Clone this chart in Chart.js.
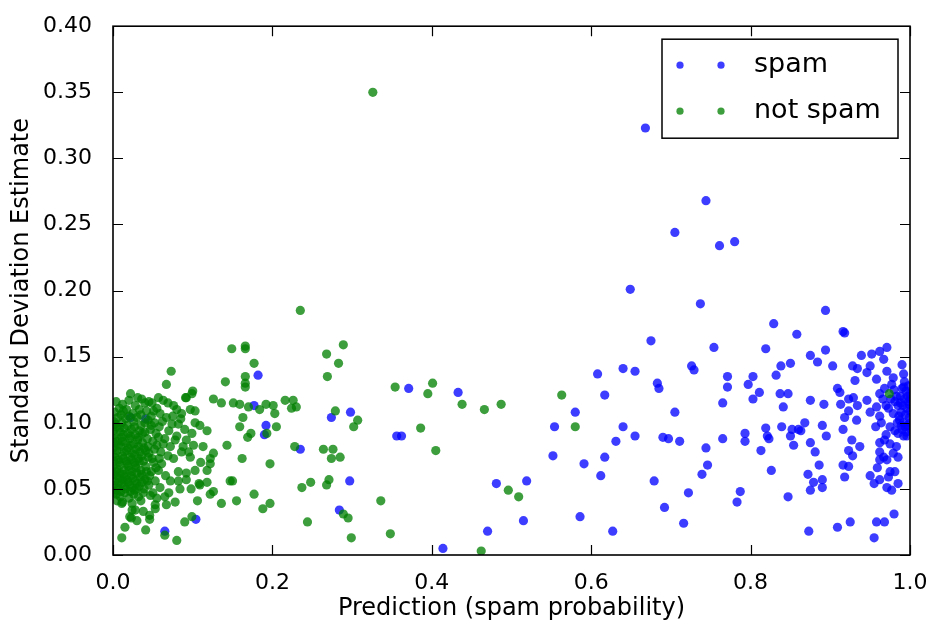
<!DOCTYPE html>
<html>
<head>
<meta charset="utf-8">
<script src="https://cdn.jsdelivr.net/npm/chart.js@4.4.1/dist/chart.umd.min.js"></script>
<style>
  html, body { margin: 0; padding: 0; background: #fff; }
  #wrap { width: 937px; height: 628px; }
</style>
</head>
<body>
<div id="wrap"><canvas id="chart" width="937" height="628"></canvas></div>
<script>
// series names and colours
const seriesNames = ['spam', 'not spam'];
const seriesColors = ['rgba(0,0,255,0.76)', 'rgba(0,128,0,0.76)'];

// axis ticks
const xTicks = [0, 0.2, 0.4, 0.6, 0.8, 1.0];
const yTicks = [0, 0.05, 0.10, 0.15, 0.20, 0.25, 0.30, 0.35, 0.40];

// spam points: [prediction, std estimate]
const spamPoints = [
  [0.022,0.104],[0.041,0.103],[0.065,0.018],[0.104,0.027],[0.177,0.113],[0.182,0.136],
  [0.192,0.098],[0.190,0.091],[0.235,0.080],[0.274,0.104],[0.298,0.108],[0.297,0.056],
  [0.284,0.034],[0.371,0.126],[0.433,0.123],[0.356,0.090],[0.362,0.090],[0.481,0.054],
  [0.519,0.056],[0.470,0.018],[0.414,0.005],[0.515,0.026],[0.554,0.097],[0.552,0.075],
  [0.580,0.108],[0.608,0.137],[0.640,0.141],[0.617,0.121],[0.640,0.097],[0.631,0.086],
  [0.617,0.074],[0.591,0.069],[0.612,0.060],[0.586,0.029],[0.627,0.018],
  [0.668,0.323],[0.744,0.268],[0.705,0.244],[0.761,0.234],[0.780,0.237],[0.649,0.201],
  [0.737,0.190],[0.675,0.162],[0.754,0.157],[0.829,0.175],[0.858,0.167],[0.894,0.185],
  [0.916,0.169],[0.918,0.168],[0.819,0.156],[0.894,0.155],[0.971,0.157],
  [0.655,0.139],[0.726,0.143],[0.729,0.140],[0.683,0.130],[0.685,0.126],[0.771,0.135],
  [0.771,0.127],[0.803,0.135],[0.797,0.129],[0.811,0.123],[0.803,0.118],[0.765,0.115],
  [0.838,0.143],[0.832,0.136],[0.705,0.108],[0.655,0.090],[0.690,0.089],[0.697,0.088],
  [0.711,0.086],[0.744,0.081],[0.765,0.088],[0.793,0.092],[0.793,0.086],[0.819,0.096],
  [0.821,0.090],[0.823,0.088],[0.813,0.079],[0.746,0.068],[0.739,0.061],[0.826,0.064],
  [0.787,0.048],[0.783,0.040],[0.679,0.056],[0.722,0.047],[0.692,0.036],[0.716,0.024],
  [0.875,0.151],[0.884,0.146],[0.903,0.143],[0.850,0.145],[0.939,0.151],[0.952,0.152],
  [0.962,0.154],[0.928,0.143],[0.934,0.141],[0.950,0.143],[0.967,0.148],[0.990,0.144],
  [0.992,0.137],[0.931,0.132],[0.946,0.138],[0.958,0.133],[0.971,0.139],[0.979,0.134],
  [0.909,0.126],[0.912,0.123],[0.837,0.122],[0.847,0.122],[0.875,0.117],[0.892,0.114],
  [0.913,0.114],[0.923,0.118],[0.929,0.119],[0.934,0.113],[0.923,0.109],[0.946,0.117],
  [0.950,0.108],[0.962,0.122],[0.962,0.105],[0.973,0.111],[0.981,0.116],[0.841,0.112],
  [0.918,0.104],[0.933,0.102],[0.839,0.097],[0.852,0.095],[0.850,0.090],[0.863,0.094],
  [0.868,0.100],[0.860,0.095],[0.890,0.098],[0.895,0.090],[0.916,0.095],[0.927,0.087],
  [0.937,0.082],[0.957,0.097],[0.975,0.097],[0.985,0.092],[0.992,0.090],[0.962,0.085],
  [0.968,0.087],[0.975,0.084],[0.983,0.082],[0.854,0.083],[0.875,0.085],[0.881,0.078],
  [0.923,0.079],[0.928,0.075],[0.962,0.078],[0.967,0.074],[0.962,0.072],[0.979,0.077],
  [0.985,0.074],[0.886,0.068],[0.916,0.068],[0.923,0.067],[0.959,0.066],[0.971,0.072],
  [0.872,0.061],[0.879,0.055],[0.890,0.057],[0.890,0.051],[0.875,0.049],[0.918,0.059],
  [0.950,0.060],[0.955,0.054],[0.962,0.057],[0.975,0.063],[0.981,0.063],[0.973,0.059],
  [0.971,0.051],[0.977,0.049],[0.985,0.054],[0.847,0.044],[0.980,0.031],[0.925,0.025],
  [0.958,0.025],[0.968,0.025],[0.909,0.021],[0.873,0.018],[0.955,0.013],
  [0.990,0.126],[0.995,0.124],[1.000,0.122],[0.988,0.120],[0.993,0.118],[0.998,0.116],
  [0.991,0.113],[0.996,0.111],[1.000,0.109],[0.989,0.108],[0.994,0.106],[0.999,0.104],
  [0.987,0.102],[0.992,0.100],[0.997,0.098],[1.000,0.096],[0.990,0.095],[0.995,0.093],
  [0.999,0.114],[0.985,0.113],[0.983,0.120],[0.986,0.105],[0.998,0.128],[0.993,0.131],
  [0.980,0.125],[0.976,0.118],[0.984,0.100],[0.979,0.107],[0.968,0.126],[0.977,0.129],
  [0.966,0.118],[0.970,0.113],[0.958,0.112],[0.964,0.100],[0.981,0.094],[0.970,0.091],
  [0.997,0.120],[0.992,0.127],[1.000,0.100],[0.996,0.090],[0.988,0.115],[0.994,0.097],
  [1.000,0.118],[0.989,0.098]
];

// not spam points: [prediction, std estimate]
const hamPoints = [
  [0.326,0.350],[0.974,0.122],
  [0.235,0.185],[0.166,0.158],[0.166,0.156],[0.149,0.156],[0.289,0.159],[0.268,0.152],
  [0.283,0.145],[0.177,0.145],[0.166,0.135],[0.166,0.127],[0.166,0.130],[0.141,0.131],
  [0.269,0.135],[0.073,0.139],[0.067,0.129],[0.022,0.122],[0.100,0.124],[0.091,0.119],
  [0.126,0.118],[0.136,0.115],[0.151,0.115],[0.159,0.114],[0.170,0.112],[0.192,0.114],
  [0.201,0.113],[0.216,0.117],[0.226,0.117],[0.230,0.112],[0.224,0.111],[0.203,0.107],
  [0.184,0.110],[0.279,0.109],[0.163,0.104],[0.159,0.097],[0.173,0.092],[0.169,0.089],
  [0.205,0.097],[0.193,0.092],[0.143,0.083],[0.228,0.082],[0.264,0.080],[0.276,0.080],
  [0.274,0.073],[0.285,0.074],[0.162,0.073],[0.197,0.069],[0.126,0.077],[0.122,0.073],
  [0.122,0.069],[0.110,0.070],[0.147,0.056],[0.150,0.056],[0.118,0.055],[0.108,0.054],
  [0.126,0.048],[0.122,0.046],[0.106,0.041],[0.136,0.039],[0.155,0.041],[0.177,0.046],
  [0.197,0.039],[0.188,0.035],[0.237,0.051],[0.248,0.055],[0.268,0.053],[0.271,0.057],
  [0.244,0.025],[0.289,0.031],[0.295,0.028],[0.299,0.013],[0.090,0.025],[0.099,0.029],
  [0.080,0.011],[0.065,0.015],[0.067,0.038],[0.053,0.038],[0.053,0.035],[0.046,0.030],
  [0.046,0.027],[0.041,0.019],[0.030,0.026],[0.023,0.028],[0.024,0.034],[0.015,0.021],
  [0.011,0.013],
  [0.354,0.127],[0.401,0.130],[0.395,0.122],[0.438,0.114],[0.466,0.110],[0.487,0.114],
  [0.563,0.121],[0.580,0.097],[0.386,0.096],[0.405,0.079],[0.307,0.102],[0.302,0.097],
  [0.336,0.041],[0.348,0.016],[0.496,0.049],[0.509,0.044],[0.462,0.003],
  [0.036,0.118],[0.040,0.115],[0.049,0.115],[0.057,0.119],[0.063,0.117],[0.069,0.115],
  [0.076,0.113],[0.080,0.110],[0.086,0.107],[0.092,0.119],[0.099,0.122],[0.097,0.110],
  [0.103,0.109],[0.013,0.109],[0.051,0.109],[0.059,0.107],[0.067,0.104],[0.074,0.099],
  [0.082,0.099],[0.090,0.095],[0.099,0.092],[0.103,0.100],[0.109,0.098],[0.118,0.094],
  [0.080,0.090],[0.092,0.087],[0.101,0.083],[0.113,0.082],[0.065,0.088],[0.069,0.075],
  [0.076,0.073],[0.086,0.078],[0.097,0.074],[0.103,0.064],[0.092,0.062],[0.082,0.063],
  [0.082,0.056],[0.084,0.050],[0.109,0.053],[0.118,0.064],[0.059,0.051],[0.057,0.064],
  [0.065,0.044],[0.055,0.043],[0.028,0.034],[0.038,0.033],[0.021,0.029],[0.011,0.039],
  [0.005,0.041],
  [0.004,0.116],[0.012,0.114],[0.020,0.117],[0.028,0.113],[0.045,0.116],[0.031,0.119],
  [0.002,0.108],[0.008,0.111],[0.017,0.110],[0.025,0.107],[0.033,0.110],[0.042,0.109],
  [0.048,0.105],[0.055,0.111],
  [0.001,0.101],[0.006,0.104],[0.011,0.100],[0.016,0.103],[0.026,0.101],[0.030,0.104],
  [0.035,0.098],[0.044,0.102],[0.052,0.100],[0.058,0.097],[0.062,0.101],
  [0.000,0.094],[0.004,0.097],[0.009,0.093],[0.014,0.096],[0.019,0.092],[0.023,0.095],
  [0.028,0.091],[0.033,0.094],[0.040,0.093],[0.047,0.095],[0.054,0.092],[0.070,0.094],
  [0.002,0.088],[0.006,0.086],[0.011,0.089],[0.016,0.085],[0.021,0.088],[0.026,0.084],
  [0.031,0.087],[0.037,0.085],[0.043,0.088],[0.050,0.086],[0.057,0.089],[0.063,0.084],
  [0.000,0.081],[0.005,0.079],[0.010,0.082],[0.014,0.078],[0.019,0.081],[0.024,0.077],
  [0.029,0.080],[0.034,0.078],[0.039,0.081],[0.045,0.077],[0.052,0.080],[0.060,0.078],
  [0.072,0.082],
  [0.002,0.074],[0.007,0.072],[0.012,0.075],[0.017,0.071],[0.022,0.074],[0.027,0.070],
  [0.032,0.073],[0.038,0.071],[0.044,0.074],[0.051,0.070],[0.058,0.073],
  [0.000,0.067],[0.005,0.065],[0.009,0.068],[0.014,0.064],[0.019,0.067],[0.024,0.063],
  [0.029,0.066],[0.035,0.064],[0.041,0.067],[0.048,0.063],[0.054,0.066],
  [0.003,0.060],[0.008,0.058],[0.013,0.061],[0.018,0.057],[0.023,0.060],[0.028,0.056],
  [0.034,0.059],[0.040,0.057],[0.046,0.060],[0.053,0.056],
  [0.001,0.053],[0.006,0.051],[0.011,0.054],[0.016,0.050],[0.021,0.053],[0.027,0.049],
  [0.033,0.052],[0.039,0.050],[0.045,0.053],
  [0.004,0.046],[0.009,0.044],[0.015,0.047],[0.020,0.043],[0.026,0.046],[0.032,0.044],
  [0.038,0.047],[0.047,0.045],[0.012,0.040],[0.024,0.039],[0.035,0.041],
  [0.075,0.105],[0.085,0.103],[0.078,0.087],[0.088,0.082],[0.095,0.078],[0.066,0.060],
  [0.072,0.056],[0.092,0.057],[0.098,0.050],[0.070,0.047],[0.078,0.040],
  [0.003,0.099],[0.008,0.096],[0.013,0.091],[0.018,0.098],[0.022,0.090],[0.027,0.097],
  [0.032,0.089],[0.037,0.092],[0.002,0.091],[0.007,0.083],[0.012,0.086],[0.017,0.079],
  [0.022,0.083],[0.027,0.076],[0.032,0.082],[0.036,0.075],[0.041,0.079],[0.003,0.077],
  [0.008,0.070],[0.013,0.073],[0.018,0.069],[0.023,0.072],[0.028,0.068],[0.033,0.071],
  [0.004,0.063],[0.009,0.062],[0.015,0.059],[0.020,0.064],[0.025,0.058],[0.030,0.062],
  [0.036,0.061],[0.042,0.063],[0.002,0.056],[0.007,0.055],[0.012,0.057],[0.019,0.055],
  [0.024,0.051],[0.030,0.054],[0.036,0.055],[0.043,0.056],[0.005,0.049],[0.010,0.048],
  [0.014,0.052],[0.022,0.048],[0.029,0.050],[0.001,0.085],[0.001,0.071],[0.001,0.061],
  [0.001,0.047],[0.000,0.098],[0.010,0.106],[0.020,0.105],[0.035,0.106],[0.040,0.100],
  [0.048,0.098],[0.044,0.082],[0.049,0.073],[0.055,0.083],[0.061,0.069],[0.050,0.047]
];

const toXY = pts => pts.map(p => ({ x: p[0], y: p[1] }));

Chart.defaults.font.family = "'DejaVu Sans', sans-serif";
Chart.defaults.color = '#000';

// matplotlib-like frame with inward ticks on all four sides
const framePlugin = {
  id: 'frame',
  afterDatasetsDraw(chart) {
    const { ctx, chartArea: a, scales } = chart;
    const len = 10;
    ctx.save();
    ctx.strokeStyle = '#000';
    ctx.lineWidth = 1.2;
    ctx.beginPath();
    xTicks.forEach(v => {
      const px = Math.round(scales.x.getPixelForValue(v)) + 0.5;
      ctx.moveTo(px, a.bottom); ctx.lineTo(px, a.bottom - len);
      ctx.moveTo(px, a.top); ctx.lineTo(px, a.top + len);
    });
    yTicks.forEach(v => {
      const py = Math.round(scales.y.getPixelForValue(v)) + 0.5;
      ctx.moveTo(a.left, py); ctx.lineTo(a.left + len, py);
      ctx.moveTo(a.right, py); ctx.lineTo(a.right - len, py);
    });
    ctx.stroke();
    ctx.lineWidth = 1.6;
    ctx.strokeRect(a.left, a.top, a.right - a.left, a.bottom - a.top);
    ctx.restore();
  }
};

// legend with two markers per entry, boxed in the top right corner
const legendPlugin = {
  id: 'boxLegend',
  afterDraw(chart) {
    const { ctx, chartArea: a } = chart;
    const w = 236, h = 99;
    const x0 = a.right - 12 - w, y0 = a.top + 13;
    ctx.save();
    ctx.fillStyle = '#fff';
    ctx.fillRect(x0, y0, w, h);
    ctx.strokeStyle = '#000';
    ctx.lineWidth = 1.5;
    ctx.strokeRect(x0, y0, w, h);
    ctx.font = "27px 'DejaVu Sans'";
    ctx.textBaseline = 'middle';
    seriesNames.forEach((name, i) => {
      const cy = y0 + 26 + i * 46;
      ctx.fillStyle = seriesColors[i];
      [18, 59].forEach(dx => {
        ctx.beginPath();
        ctx.arc(x0 + dx, cy, 3.6, 0, Math.PI * 2);
        ctx.fill();
      });
      ctx.fillStyle = '#000';
      ctx.fillText(name, x0 + 92, cy);
    });
    ctx.restore();
  }
};

const ctx = document.getElementById('chart').getContext('2d');
new Chart(ctx, {
  type: 'scatter',
  data: {
    datasets: [
      {
        label: seriesNames[0],
        data: toXY(spamPoints),
        backgroundColor: seriesColors[0],
        borderWidth: 0,
        pointRadius: 4.6,
        clip: 0,
        order: 1
      },
      {
        label: seriesNames[1],
        data: toXY(hamPoints),
        backgroundColor: seriesColors[1],
        borderWidth: 0,
        pointRadius: 4.6,
        clip: 0,
        order: 0
      }
    ]
  },
  options: {
    responsive: false,
    animation: false,
    layout: { padding: { top: 24, right: 27, left: 0, bottom: 0 } },
    plugins: {
      legend: { display: false },
      tooltip: { enabled: false }
    },
    scales: {
      x: {
        type: 'linear',
        min: 0,
        max: 1,
        afterBuildTicks: s => { s.ticks = xTicks.map(v => ({ value: v })); },
        afterFit: s => { s.height = 73; },
        grid: { display: false },
        border: { display: false },
        ticks: {
          padding: 7,
          maxRotation: 0,
          font: { size: 22 },
          callback: v => Number(v).toFixed(1)
        },
        title: {
          display: true,
          text: 'Prediction (spam probability)',
          font: { size: 24 },
          padding: { top: 0, bottom: 5 }
        }
      },
      y: {
        type: 'linear',
        min: 0,
        max: 0.4,
        afterBuildTicks: s => { s.ticks = yTicks.map(v => ({ value: v })); },
        afterFit: s => { s.width = 113; },
        grid: { display: false },
        border: { display: false },
        ticks: {
          padding: 13,
          font: { size: 22 },
          callback: v => Number(v).toFixed(2)
        },
        title: {
          display: true,
          text: 'Standard Deviation Estimate',
          font: { size: 24 },
          padding: { top: 7, bottom: 0 }
        }
      }
    }
  },
  plugins: [framePlugin, legendPlugin]
});
</script>
</body>
</html>
